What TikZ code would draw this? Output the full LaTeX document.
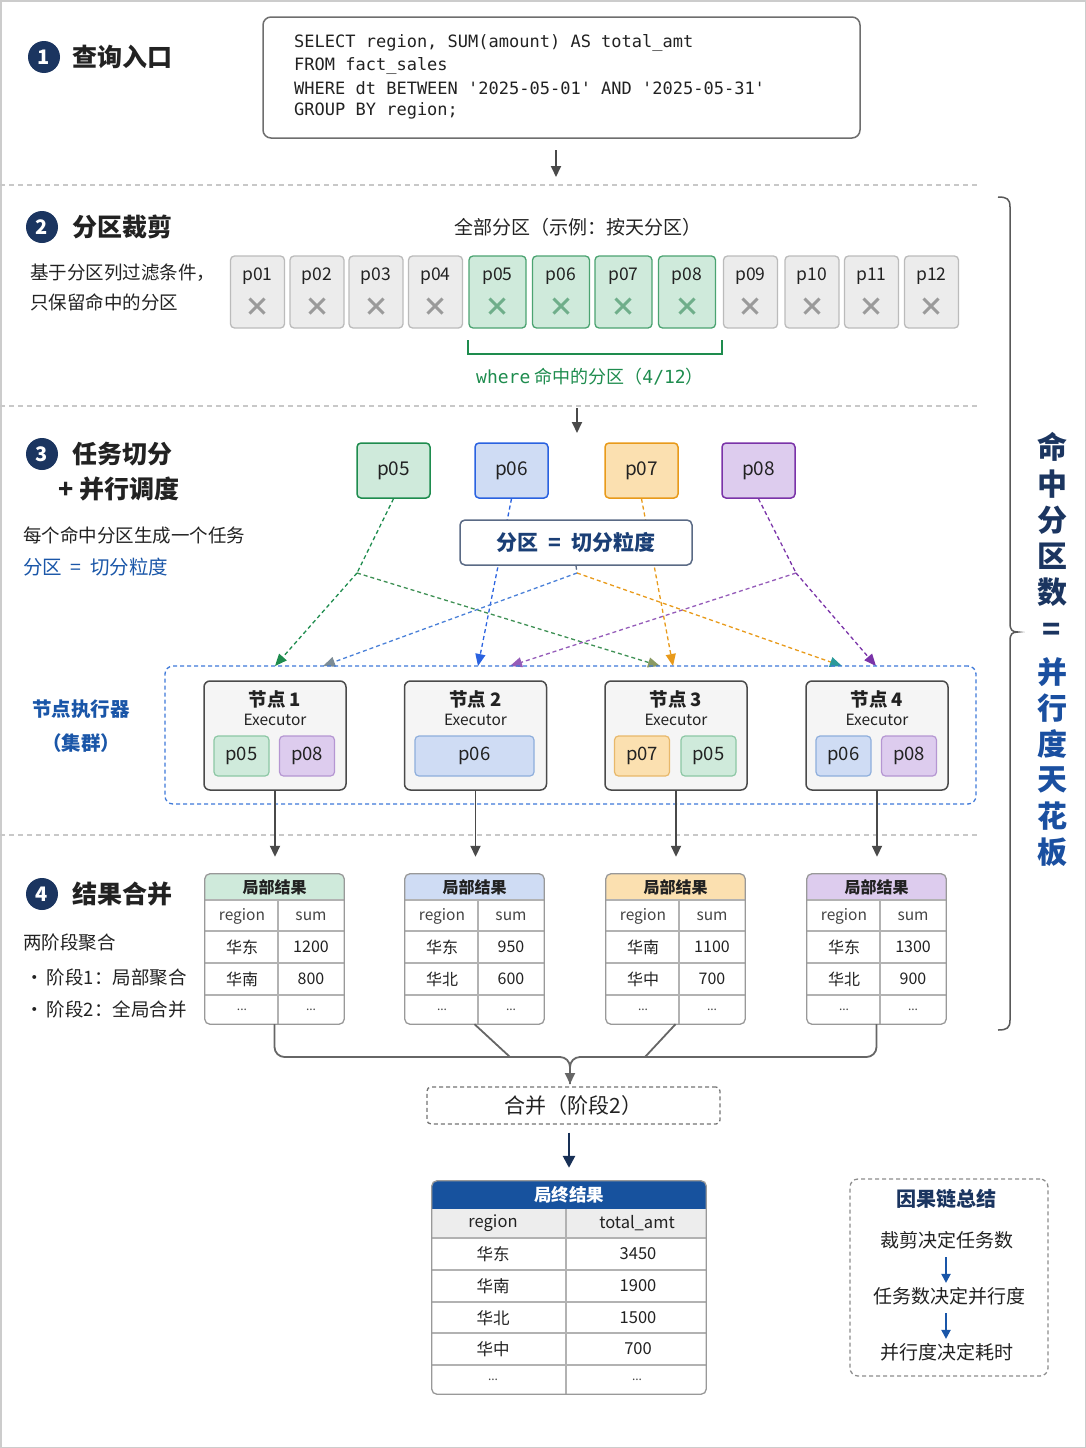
\documentclass[tikz,border=0pt]{standalone}
\usepackage{fontspec}
\setmainfont{Noto Sans CJK SC}
\setmonofont{DejaVu Sans Mono}
\usetikzlibrary{arrows.meta}
\definecolor{navy}{HTML}{1B3560}
\definecolor{txt}{HTML}{222222}
\definecolor{gline}{HTML}{1E8C4E}
\definecolor{gfill}{HTML}{CFEADB}
\definecolor{ginner}{HTML}{8CC7A4}
\definecolor{bline}{HTML}{2A62E0}
\definecolor{bfill}{HTML}{CFDCF4}
\definecolor{binner}{HTML}{8EAEDC}
\definecolor{oline}{HTML}{E89A1A}
\definecolor{ofill}{HTML}{FBE0B0}
\definecolor{oinner}{HTML}{E8B86A}
\definecolor{pline}{HTML}{7A33A8}
\definecolor{pfill}{HTML}{DDCCEE}
\definecolor{pinner}{HTML}{B596D2}
\definecolor{tblue}{HTML}{1A56A8}
\definecolor{tblue2}{HTML}{1A4FA0}
\definecolor{hdrblue}{HTML}{17529E}
\definecolor{arrgrey}{HTML}{4A4A4A}
\definecolor{sepgrey}{HTML}{C8C8C8}
\definecolor{pgb}{HTML}{BBBBBB}
\definecolor{pgf}{HTML}{ECECEC}
\definecolor{xgrey}{HTML}{9A9A9A}
\definecolor{xgreen}{HTML}{6FAE8A}
\definecolor{olivetip}{HTML}{8A9A62}
\definecolor{greytip}{HTML}{7C8C96}
\definecolor{tealtip}{HTML}{2A9A9A}
\definecolor{frameblue}{HTML}{5A6A85}
\definecolor{clblue}{HTML}{3D78D8}
\definecolor{midblue}{HTML}{4A80D8}
\definecolor{gtext}{HTML}{444444}
\newcommand\fsz[1]{\fontsize{#1}{#1}\selectfont}
\newcommand\mytable[7]{%
 \node[tblbox] (#1) at ({#2+69.5},949) {};
 \begin{scope}
  \clip[rounded corners=5pt] (#2,874) rectangle ({#2+139},1024);
  \fill[#3] (#2,874) rectangle ({#2+139},900);
 \end{scope}
 \draw[tline] (#2,900) -- ({#2+139},900);
 \draw[tline] (#2,931) -- ({#2+139},931);
 \draw[tline] (#2,963) -- ({#2+139},963);
 \draw[tline] (#2,995) -- ({#2+139},995);
 \draw[tline] ({#2+73},900) -- ({#2+73},1024);
 \draw[tborder] (#1.north west) rectangle (#1.south east);
 \node[tht] (#1h) at ({#2+69.5},887) {局部结果};
 \node[tct] (#1c1) at ({#2+37},916) {region};
 \node[tct] (#1c2) at ({#2+106},916) {sum};
 \node[tvt] (#1a1) at ({#2+37},947) {#4};
 \node[tvt] (#1a2) at ({#2+106},947) {#5};
 \node[tvt] (#1b1) at ({#2+37},979) {#6};
 \node[tvt] (#1b2) at ({#2+106},979) {#7};
 \node[tdt] (#1d1) at ({#2+37},1010) {...};
 \node[tdt] (#1d2) at ({#2+106},1010) {...};
}
\begin{document}
\begin{tikzpicture}[x=1pt,y=-1pt,
 numc/.style={circle, fill=navy, text=white, minimum size=32pt, inner sep=0pt, font=\fsz{20}\bfseries},
 head/.style={anchor=west, text=txt, font=\fsz{25}\bfseries, inner sep=0pt},
 body/.style={anchor=west, text=txt, font=\fsz{18.5}, inner sep=0pt},
 sqlbox/.style={draw=arrgrey!80, line width=1.5pt, rounded corners=8pt, fill=white, minimum width=597pt, minimum height=121pt},
 sqlt/.style={anchor=west, text=txt, font=\fsz{17}\ttfamily, inner sep=0pt},
 sep/.style={draw=sepgrey, line width=1.2pt, dash pattern=on 5pt off 4pt},
 garrow/.style={draw=arrgrey, line width=1.8pt, -{Triangle[length=11pt,width=10pt]}},
 pgrey/.style={draw=pgb, fill=pgf, line width=1.3pt, rounded corners=4pt, minimum width=54pt, minimum height=72pt, inner sep=0pt},
 pgreen/.style={draw=gline!80, fill=gfill, line width=1.3pt, rounded corners=4pt, minimum width=57pt, minimum height=72pt, inner sep=0pt},
 ptxt/.style={text=txt, font=\fsz{17.5}, inner sep=0pt},
 xg/.style={text=xgrey, font=\fsz{26}\bfseries, inner sep=0pt},
 xgr/.style={text=xgreen, font=\fsz{26}\bfseries, inner sep=0pt},
 tbox/.style={line width=1.5pt, rounded corners=4pt, minimum width=73pt, minimum height=55pt, inner sep=0pt, text=txt, font=\fsz{19}},
 dline/.style={line width=1.3pt, dash pattern=on 4pt off 3pt},
 tip/.style={-{Triangle[length=12pt,width=10pt,color=#1]}},
 exbox/.style={draw=arrgrey, fill=white!96!black, line width=1.5pt, rounded corners=6pt, minimum width=142pt, minimum height=109pt, inner sep=0pt},
 inbox/.style={line width=1.2pt, rounded corners=4pt, minimum height=40pt, inner sep=0pt, text=txt, font=\fsz{18.5}},
 tblbox/.style={fill=white, minimum width=139pt, minimum height=150pt, inner sep=0pt},
 tline/.style={draw=black!30, line width=1.2pt},
 tborder/.style={draw=black!40, line width=1.3pt, rounded corners=5pt},
 tht/.style={text=txt, font=\fsz{16}\bfseries, inner sep=0pt},
 tct/.style={text=gtext, font=\fsz{15.5}, inner sep=0pt},
 tvt/.style={text=txt, font=\fsz{16}, inner sep=0pt},
 tdt/.style={text=gtext, font=\fsz{12}, inner sep=0pt},
 mline/.style={draw=black!60, line width=1.8pt},
 vt/.style={font=\fsz{30}\bfseries, inner sep=0pt}
]
\useasboundingbox (0,0) rectangle (1086,1448);
\draw[draw=black!20, line width=1.5pt] (0.75,0.75) rectangle (1085.25,1447.25);

% ---------- Section 1
\node[numc] (n1) at (44,57) {1};
\node[head] (h1) at (72,57) {查询入口};
\node[sqlbox] (sql) at (561.5,77.5) {};
\node[sqlt] (q1) at (294,43) {SELECT region, SUM(amount) AS total\_amt};
\node[sqlt] (q2) at (294,66) {FROM fact\_sales};
\node[sqlt] (q3) at (294,88.5) {WHERE dt BETWEEN '2025-05-01' AND '2025-05-31'};
\node[sqlt] (q4) at (294,111) {GROUP BY region;};
\coordinate (c1s) at (556,150);
\coordinate (c1e) at (556,177);
\draw[garrow] (c1s) -- (c1e);
\draw[sep] (0,185) -- (978,185);

% ---------- Section 2
\node[numc] (n2) at (42,227) {2};
\node[head] (h2) at (72,227) {分区裁剪};
\node[body, anchor=center, font=\fsz{19}] (allp) at (578,227) {全部分区（示例：按天分区）};
\node[body] (d2a) at (30,273) {基于分区列过滤条件，};
\node[body] (d2b) at (30,302) {只保留命中的分区};
\foreach \n/\x in {01/257.5,02/317,03/376,04/435.5,09/750.5,10/812,11/871.5,12/931.5}{
 \node[pgrey] (p\n) at (\x,292) {};
 \node[ptxt] (p\n l) at (\x,276) {p\n};
 \node[xg] (p\n x) at (\x,307) {×};
}
\foreach \n/\x in {05/497.5,06/561,07/623.5,08/687}{
 \node[pgreen] (p\n) at (\x,292) {};
 \node[ptxt] (p\n l) at (\x,276) {p\n};
 \node[xgr] (p\n x) at (\x,307) {×};
}
\coordinate (bk1) at (468,340);
\coordinate (bk2) at (722,340);
\draw[draw=gline, line width=1.6pt] (bk1) -- ++(0,14) -| (bk2);
\node[text=gline, font=\fsz{18}, inner sep=0pt] (wh) at (590,377) {{\ttfamily where}~命中的分区（{\ttfamily 4/12}）};
\draw[sep] (0,406) -- (978,406);
\coordinate (c2s) at (577,408);
\coordinate (c2e) at (577,433);
\draw[garrow] (c2s) -- (c2e);

% ---------- Section 3
\node[numc] (n3) at (42,454) {3};
\node[head] (h3) at (72,454) {任务切分};
\node[head] (h3b) at (58,489) {+ 并行调度};
\node[body] (d3a) at (23,535) {每个命中分区生成一个任务};
\node[body, font=\fsz{19.5}, text=tblue] (d3b) at (23,567) {分区 ~=~ 切分粒度};

\node[tbox, draw=gline, fill=gfill] (tp05) at (393.5,470.5) {p05};
\node[tbox, draw=bline, fill=bfill] (tp06) at (511.5,470.5) {p06};
\node[tbox, draw=oline, fill=ofill] (tp07) at (641.5,470.5) {p07};
\node[tbox, draw=pline, fill=pfill] (tp08) at (758.5,470.5) {p08};

\coordinate (g1) at (357,573);
\coordinate (pb1) at (796,573);
\coordinate (mb) at (577,573);
\coordinate (a1) at (275,666);
\coordinate (a2) at (323,666);
\coordinate (a3) at (478,666);
\coordinate (a4) at (510,666);
\coordinate (a5) at (660,666);
\coordinate (a6) at (673,666);
\coordinate (a7) at (842,666);
\coordinate (a8) at (876,666);

\draw[dline, draw=gline] (tp05.south) -- (g1);
\draw[dline, draw=gline, tip=gline] (g1) -- (a1);
\draw[dline, draw=gline!70!olivetip, tip=olivetip] (g1) -- (a5);
\draw[dline, draw=bline, tip=bline] (tp06.south) -- (a3);
\draw[dline, draw=oline, tip=oline] (tp07.south) -- (a6);
\draw[dline, draw=pline] (tp08.south) -- (pb1);
\draw[dline, draw=pline, tip=pline] (pb1) -- (a8);
\draw[dline, draw=pline!80!white, tip=pline!80!white] (pb1) -- (a4);

\node[draw=frameblue, line width=1.5pt, rounded corners=5pt, fill=white, minimum width=232pt, minimum height=45pt, inner sep=0pt, text=navy!70!tblue, font=\fsz{21}\bfseries] (gran) at (576,542.5) {分区 ~=~ 切分粒度};

\draw[dline, draw=frameblue] (gran.south) -- (mb);
\draw[dline, draw=midblue, tip=greytip] (mb) -- (a2);
\draw[dline, draw=oline, tip=tealtip] (mb) -- (a7);

\node[draw=clblue, line width=1.3pt, dash pattern=on 4pt off 3pt, rounded corners=8pt, minimum width=811pt, minimum height=138pt, inner sep=0pt] (cl) at (570.5,735) {};

\node[text=tblue, font=\fsz{19.5}\bfseries, inner sep=0pt] (ex1) at (81,709) {节点执行器};
\node[text=tblue, font=\fsz{19.5}\bfseries, inner sep=0pt] (ex2) at (81,743) {（集群）};

\foreach \i/\x in {1/275,2/475.5,3/676,4/877}{
 \node[exbox] (e\i) at (\x,735.5) {};
 \node[text=txt, font=\fsz{18.5}\bfseries, inner sep=0pt] (e\i t) at (\x,699) {节点 \i};
 \node[text=txt, font=\fsz{15.5}, inner sep=0pt] (e\i s) at (\x,720) {Executor};
}
\node[inbox, draw=ginner, fill=gfill, minimum width=55pt] (i15) at (241.5,756) {p05};
\node[inbox, draw=pinner, fill=pfill, minimum width=55pt] (i18) at (307,756) {p08};
\node[inbox, draw=binner, fill=bfill, minimum width=119pt] (i26) at (474.5,756) {p06};
\node[inbox, draw=oinner, fill=ofill, minimum width=55pt] (i37) at (642,756) {p07};
\node[inbox, draw=ginner, fill=gfill, minimum width=55pt] (i35) at (708.5,756) {p05};
\node[inbox, draw=binner, fill=bfill, minimum width=55pt] (i46) at (843.5,756) {p06};
\node[inbox, draw=pinner, fill=pfill, minimum width=55pt] (i48) at (909,756) {p08};

\draw[sep] (0,835) -- (978,835);

% ---------- Section 4
\node[numc] (n4) at (42,894) {4};
\node[head] (h4) at (72,894) {结果合并};
\node[body] (d4a) at (23,942) {两阶段聚合};
\node[body] (d4b) at (25,977) {•\,阶段1：局部聚合};
\node[body] (d4c) at (25,1009) {•\,阶段2：全局合并};

\mytable{t1}{205}{gfill}{华东}{1200}{华南}{800}
\mytable{t2}{405}{bfill}{华东}{950}{华北}{600}
\mytable{t3}{606}{ofill}{华南}{1100}{华中}{700}
\mytable{t4}{807}{pfill}{华东}{1300}{华北}{900}

\draw[garrow, shorten >=17pt] (e1.south) -- (e1.south |- t1.north);
\draw[garrow, shorten >=17pt] (e2.south) -- (e2.south |- t2.north);
\draw[garrow, shorten >=17pt] (e3.south) -- (e3.south |- t3.north);
\draw[garrow, shorten >=17pt] (e4.south) -- (e4.south |- t4.north);

\coordinate (mj) at (570,1057);
\coordinate (mj2) at (510,1057);
\coordinate (mj3) at (645,1057);
\coordinate (mt) at (570,1084);
\draw[mline, rounded corners=10pt] (t4.south) |- (mj) -- (mt);
\draw[mline, rounded corners=10pt, -{Triangle[length=11pt,width=10pt]}] (t1.south) |- (mj) -- (mt);
\draw[mline] (t2.south) -- (mj2);
\draw[mline] (t3.south) -- (mj3);

\node[draw=black!55, line width=1.3pt, dash pattern=on 4pt off 3pt, rounded corners=4pt, minimum width=293pt, minimum height=37pt, inner sep=0pt, text=txt, font=\fsz{21}] (mg) at (573.5,1105.5) {合并（阶段2）};

% final table
\node[fill=white, minimum width=274pt, minimum height=213pt, inner sep=0pt] (ft) at (569,1287.5) {};
\begin{scope}
 \clip[rounded corners=5pt] (432,1181) rectangle (706,1394);
 \fill[hdrblue] (432,1181) rectangle (706,1209);
 \fill[black!7] (432,1209) rectangle (706,1238);
\end{scope}
\foreach \yy in {1238,1270,1302,1333,1365}{
 \draw[tline] (432,\yy) -- (706,\yy);
}
\draw[tline] (566,1209) -- (566,1394);
\draw[tborder] (ft.north west) rectangle (ft.south east);
\node[text=white, font=\fsz{17.5}\bfseries, inner sep=0pt] (fth) at (569,1195) {局终结果};
\node[tvt, font=\fsz{16.5}] (fc1) at (493,1223.5) {region};
\node[tvt, font=\fsz{16.5}] (fc2) at (637,1223.5) {total\_amt};
\foreach \r/\v/\yy/\k in {华东/3450/1254/1,华南/1900/1286/2,华北/1500/1318/3,华中/700/1349/4}{
 \node[tvt, font=\fsz{16.5}] (fr\k) at (493,\yy) {\r};
 \node[tvt, font=\fsz{16.5}] (fv\k) at (638,\yy) {\v};
}
\node[tdt] (fr5) at (493,1380) {...};
\node[tdt] (fv5) at (637,1380) {...};

\draw[draw=navy!90!black, line width=2.6pt, -{Triangle[length=12pt,width=12pt]}, shorten <=8pt, shorten >=13pt] (ft.north |- mg.south) -- (ft.north);

% summary box
\node[draw=black!45, line width=1.3pt, dash pattern=on 4pt off 3pt, rounded corners=8pt, minimum width=198pt, minimum height=197pt, inner sep=0pt] (sb) at (949,1277.5) {};
\node[text=navy, font=\fsz{20}\bfseries, inner sep=0pt] (st) at (946,1199) {因果链总结};
\node[text=txt, font=\fsz{19}, inner sep=0pt] (s1) at (947,1240) {裁剪决定任务数};
\node[text=txt, font=\fsz{19}, inner sep=0pt] (s2) at (949,1296) {任务数决定并行度};
\node[text=txt, font=\fsz{19}, inner sep=0pt] (s3) at (947,1352) {并行度决定耗时};
\draw[draw=tblue, line width=2pt, -{Triangle[length=9pt,width=9pt]}, shorten <=8pt, shorten >=4pt] (s1.south -| st.south) -- (s2.north -| st.south);
\draw[draw=tblue, line width=2pt, -{Triangle[length=9pt,width=9pt]}, shorten <=8pt, shorten >=4pt] (s2.south -| st.south) -- (s3.north -| st.south);

% brace and vertical label
\draw[draw=black!65, line width=1.5pt] (998,197) .. controls (1007,197) and (1010,199) .. (1010,207) -- (1010,623) .. controls (1010,630) and (1012,632) .. (1018,632) .. controls (1012,632) and (1010,634) .. (1010,641) -- (1010,1020) .. controls (1010,1028) and (1007,1030) .. (998,1030);
\foreach \c/\yy/\col in {命/447/navy,中/484/navy,分/520/navy,区/556/navy,数/592/navy,=/632/navy,并/672/tblue2,行/708/tblue2,度/744/tblue2,天/780/tblue2,花/816/tblue2,板/852/tblue2}{
 \node[vt, text=\col] (v\yy) at (1052,\yy) {\c};
}
\end{tikzpicture}
\end{document}
